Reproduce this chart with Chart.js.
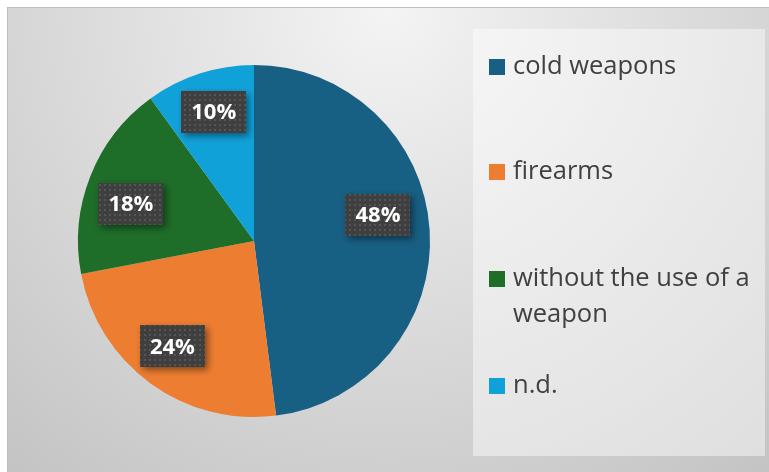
<!DOCTYPE html>
<html>
<head>
<meta charset="utf-8">
<script src="https://cdn.jsdelivr.net/npm/chart.js@4"></script>
<style>
  html, body { margin: 0; padding: 0; background: #fff; overflow: hidden; }
  #frame { position: absolute; left: 7px; top: 7px; border-left: 1px solid #bdbdbd; border-top: 1px solid #bdbdbd; }
  #wrap { position: relative; width: 761px; height: 464px; }
</style>
</head>
<body>
<div id="frame"><div id="wrap"><canvas id="pie"></canvas></div></div>
<script>
const categories = ['cold weapons', 'firearms', 'without the use of a weapon', 'n.d.'];
const shares = [48, 24, 18, 10];
const sliceColors = ['#185f84', '#ed7d31', '#1e6d29', '#11a1d9'];

// textures for the value boxes
function dotPattern() {
  const c = document.createElement('canvas');
  c.width = 5; c.height = 5;
  const g = c.getContext('2d');
  g.fillStyle = '#3f3f3f';
  g.fillRect(0, 0, 5, 5);
  g.fillStyle = '#555555';
  g.fillRect(1, 1, 2, 2);
  return g.createPattern(c, 'repeat');
}

const backdrop = {
  id: 'backdrop',
  beforeDraw(chart) {
    const { ctx, width, height } = chart;
    ctx.save();
    const grad = ctx.createRadialGradient(380, 0, 0, 380, 0, 620);
    grad.addColorStop(0, '#f4f4f4');
    grad.addColorStop(1, '#c2c2c2');
    ctx.fillStyle = grad;
    ctx.fillRect(0, 0, width, height);
    // legend panel
    ctx.fillStyle = 'rgba(255,255,255,0.45)';
    ctx.fillRect(465, 21, 292, 427);
    ctx.restore();
  }
};

const valueBoxes = {
  id: 'valueBoxes',
  afterDatasetsDraw(chart, args, opts) {
    const { ctx } = chart;
    const meta = chart.getDatasetMeta(0);
    const data = chart.data.datasets[0].data;
    const total = data.reduce((a, b) => a + b, 0);
    const pat = dotPattern();
    ctx.save();
    ctx.font = 'bold 22px "Open Sans", sans-serif';
    meta.data.forEach((arc, i) => {
      const p = arc.getProps(['x', 'y', 'startAngle', 'endAngle', 'outerRadius'], true);
      const mid = (p.startAngle + p.endAngle) / 2;
      const nudge = opts.nudge[i] || [0, 0];
      const cx = p.x + Math.cos(mid) * p.outerRadius * 0.74 + nudge[0];
      const cy = p.y + Math.sin(mid) * p.outerRadius * 0.74 + nudge[1];
      const txt = Math.round(data[i] / total * 100) + '%';
      const w = ctx.measureText(txt).width + 20;
      const h = 42;
      ctx.save();
      ctx.shadowColor = 'rgba(0,0,0,0.45)';
      ctx.shadowBlur = 7;
      ctx.shadowOffsetX = 3;
      ctx.shadowOffsetY = 3;
      ctx.fillStyle = pat;
      ctx.fillRect(Math.round(cx - w / 2), Math.round(cy - h / 2), Math.round(w), h);
      ctx.restore();
      ctx.fillStyle = '#ffffff';
      ctx.textAlign = 'center';
      ctx.textBaseline = 'middle';
      ctx.fillText(txt, cx, cy + 1);
    });
    ctx.restore();
  }
};

const sideLegend = {
  id: 'sideLegend',
  afterDraw(chart, args, opts) {
    const { ctx } = chart;
    const labels = chart.data.labels;
    const colors = chart.data.datasets[0].backgroundColor;
    ctx.save();
    ctx.font = '25.5px "Open Sans", sans-serif';
    ctx.textBaseline = 'middle';
    labels.forEach((lab, i) => {
      // wrap words into the panel width
      const lines = [];
      let cur = '';
      lab.split(' ').forEach(word => {
        const t = cur ? cur + ' ' + word : word;
        if (ctx.measureText(t).width > opts.maxWidth && cur) { lines.push(cur); cur = word; }
        else cur = t;
      });
      lines.push(cur);
      const y0 = opts.rows[i];
      ctx.fillStyle = colors[i];
      ctx.fillRect(481, y0 - 8, 16, 16);
      ctx.fillStyle = '#404040';
      lines.forEach((ln, k) => ctx.fillText(ln, 505, y0 + k * 36));
    });
    ctx.restore();
  }
};

new Chart(document.getElementById('pie'), {
  type: 'pie',
  data: {
    labels: categories,
    datasets: [{ data: shares, backgroundColor: sliceColors, borderWidth: 0 }]
  },
  options: {
    responsive: true,
    maintainAspectRatio: false,
    animation: false,
    layout: { padding: { left: 70, right: 339, top: 57, bottom: 55 } },
    plugins: {
      legend: { display: false },
      tooltip: { enabled: false },
      valueBoxes: { nudge: [[-6, -18], [-5, 0], [-2, 11], [0, -5]] },
      sideLegend: { maxWidth: 248, rows: [59, 164, 271, 378] }
    }
  },
  plugins: [backdrop, valueBoxes, sideLegend]
});
</script>
</body>
</html>
